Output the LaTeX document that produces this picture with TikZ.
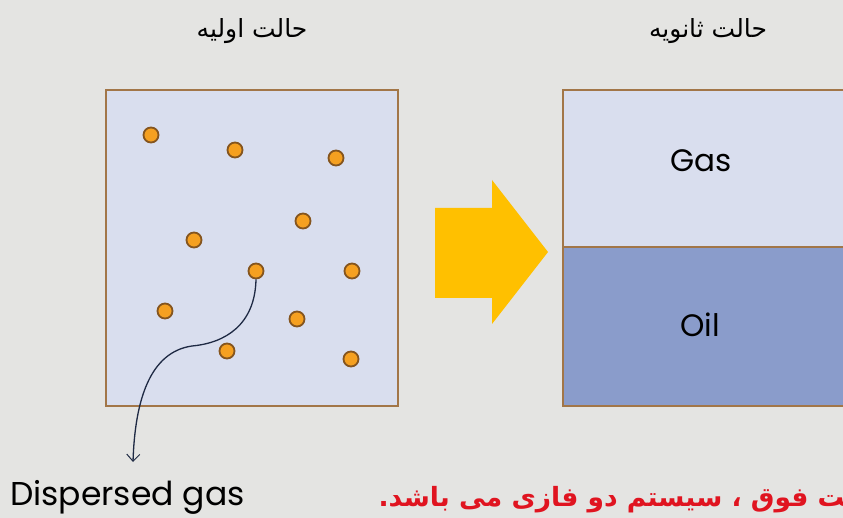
\documentclass[tikz,border=0pt]{standalone}
\usepackage{fontspec}
\setmainfont{Poppins}
\newfontfamily\arabicfont[Script=Arabic]{DejaVu Sans}
\TeXXeTstate=1
\usetikzlibrary{arrows.meta}
\definecolor{bg}{HTML}{E4E4E2}
\definecolor{boxline}{HTML}{A27648}
\definecolor{gasfill}{HTML}{D9DEEE}
\definecolor{oilfill}{HTML}{8A9CCB}
\definecolor{dotfill}{HTML}{F5A020}
\definecolor{dotline}{HTML}{85551E}
\definecolor{bigarrow}{HTML}{FFC000}
\definecolor{curve}{HTML}{1F2A44}
\definecolor{redtext}{HTML}{E01420}
\tikzset{
  dot/.style={circle, fill=dotfill, draw=dotline, line width=1.8pt, minimum size=15pt, inner sep=0pt},
  vessel/.style={draw=boxline, line width=2.2pt},
  label/.style={font=\fontsize{31}{36}\selectfont, text=black},
  title/.style={font=\arabicfont\fontsize{25}{30}\selectfont, text=black},
}
\begin{document}
\begin{tikzpicture}[x=1pt,y=-1pt]
\fill[bg] (0,0) rectangle (843,518);
\useasboundingbox (0,0) rectangle (843,518);
\begin{scope}
\clip (0,0) rectangle (843,518);
% titles
\node[title] (t1) at (252,31) {\beginR حالت اولیه\endR};
\node[title] (t2) at (708,31) {\beginR حالت ثانویه\endR};
% left vessel
\node[vessel, fill=gasfill, anchor=north west, minimum width=292pt, minimum height=316pt, inner sep=0pt] (lbox) at (105,89) {};
% dots
\node[dot] (c1) at (151,135) {};
\node[dot] (c2) at (235,150) {};
\node[dot] (c3) at (336,158) {};
\node[dot] (c4) at (303,221) {};
\node[dot] (c5) at (194,240) {};
\node[dot] (c6) at (256,271) {};
\node[dot] (c7) at (352,271) {};
\node[dot] (c8) at (165,311) {};
\node[dot] (c9) at (297,319) {};
\node[dot] (c10) at (227,351) {};
\node[dot] (c11) at (351,359) {};
% right vessel
\node[vessel, fill=gasfill, anchor=north west, minimum width=300pt, minimum height=157pt, inner sep=0pt] (gas) at (562,89) {};
\node[vessel, fill=oilfill, anchor=north west, minimum width=300pt, minimum height=159pt, inner sep=0pt] (oil) at (562,246) {};
\node[label] (gastext) at (701,161) {Gas};
\node[label] (oiltext) at (700,325) {Oil};
% big arrow
\fill[bigarrow] (435,208) -- (492,208) -- (492,180) -- (548,252) -- (492,324) -- (492,298) -- (435,298) -- cycle;
% dispersed gas
\coordinate (tip) at (133,462);
\node[label, font=\fontsize{33}{38}\selectfont, anchor=base west, inner sep=0pt] (disp) at (10,505) {Dispersed gas};
\draw[curve, line width=1.3pt, -{Straight Barb[length=7pt,width=13pt,line width=1pt]}]
  (c6.south) .. controls (255,325) and (225,343) .. (192,346) .. controls (150,352) and (135,400) .. (tip);
% red sentence
\node[anchor=base east, inner sep=0pt, text=redtext, font=\arabicfont\bfseries\fontsize{26.5}{30}\selectfont] (note) at (846,506) {\beginR ‍ت فوق ، سیستم دو فازی می باشد.\endR};
\end{scope}
\end{tikzpicture}
\end{document}
